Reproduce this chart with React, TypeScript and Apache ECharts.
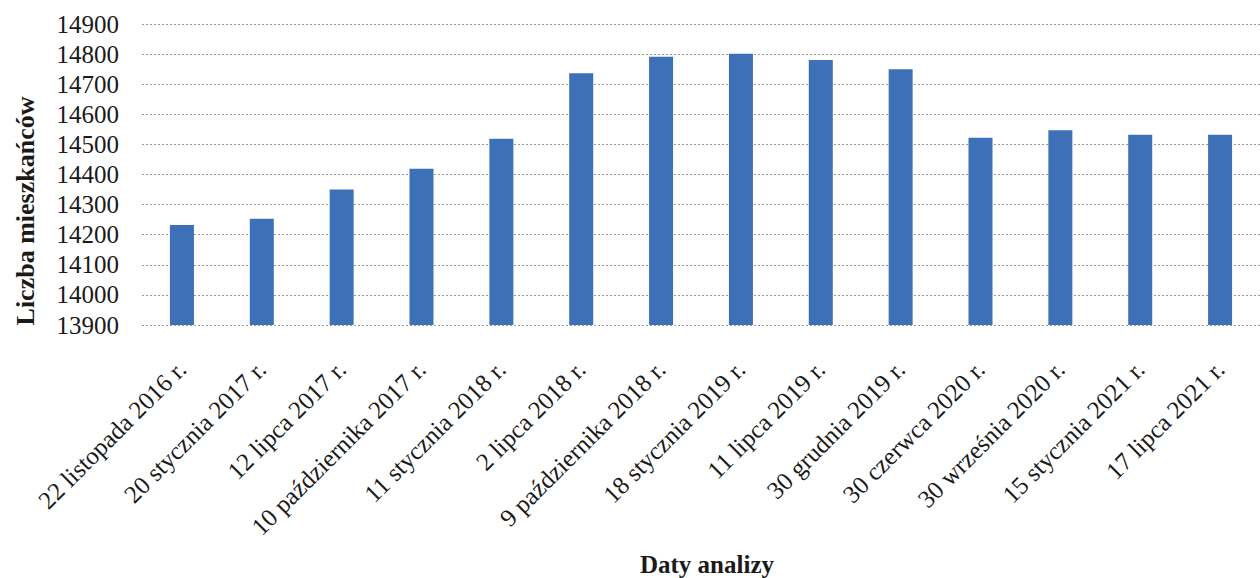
import React, { useEffect, useRef } from "react";
import * as echarts from "echarts";

const categories = [
  "22 listopada 2016 r.",
  "20 stycznia 2017 r.",
  "12 lipca 2017 r.",
  "10 października 2017 r.",
  "11 stycznia 2018 r.",
  "2 lipca 2018 r.",
  "9 października 2018 r.",
  "18 stycznia 2019 r.",
  "11 lipca 2019 r.",
  "30 grudnia 2019 r.",
  "30 czerwca 2020 r.",
  "30 września 2020 r.",
  "15 stycznia 2021 r.",
  "17 lipca 2021 r.",
];
const residents = [
  14232, 14253, 14350, 14419, 14519, 14736, 14791, 14801, 14780, 14750, 14522,
  14547, 14532, 14532,
];
const yMin = 13900;
const yMax = 14900;
const yStep = 100;
const yTitle = "Liczba mieszkańców";
const xTitle = "Daty analizy";

const FONT = "'Liberation Serif', 'Times New Roman', serif";

export default function App() {
  const ref = useRef<HTMLDivElement>(null);
  useEffect(() => {
    if (!ref.current) return;
    const chart = echarts.init(ref.current, null, { renderer: "svg" });
    chart.setOption({
      animation: false,
      backgroundColor: "#ffffff",
      grid: { left: 142, right: -9, top: 24, bottom: 253 },
      xAxis: {
        type: "category",
        data: categories,
        axisLine: { show: false },
        axisTick: { show: false },
        axisLabel: {
          rotate: 45,
          margin: 40,
          fontFamily: FONT,
          fontSize: 25,
          color: "#1a1a1a",
          interval: 0,
        },
      },
      yAxis: {
        type: "value",
        min: yMin,
        max: yMax,
        interval: yStep,
        axisLine: { show: false },
        axisTick: { show: false },
        axisLabel: {
          margin: 23,
          fontFamily: FONT,
          fontSize: 25,
          color: "#1a1a1a",
          formatter: (v: number) => String(v),
        },
        splitLine: {
          show: true,
          lineStyle: { color: "#9a9a9a", type: [2, 2], width: 1 },
        },
      },
      series: [
        {
          type: "bar",
          data: residents,
          barWidth: 24,
          itemStyle: { color: "#3d70b7" },
        },
      ],
      graphic: [
        {
          type: "text",
          x: 25,
          y: 211,
          rotation: Math.PI / 2,
          style: {
            text: yTitle,
            fontFamily: FONT,
            fontSize: 26,
            fontWeight: "bold",
            fill: "#1a1a1a",
            align: "center",
            verticalAlign: "middle",
          },
        },
        {
          type: "text",
          x: 707,
          y: 564,
          style: {
            text: xTitle,
            fontFamily: FONT,
            fontSize: 25,
            fontWeight: "bold",
            fill: "#1a1a1a",
            align: "center",
            verticalAlign: "middle",
          },
        },
      ],
    });
    return () => chart.dispose();
  }, []);
  return (
    <div
      ref={ref}
      style={{ position: "fixed", left: 0, top: 0, width: 1260, height: 578 }}
    />
  );
}
